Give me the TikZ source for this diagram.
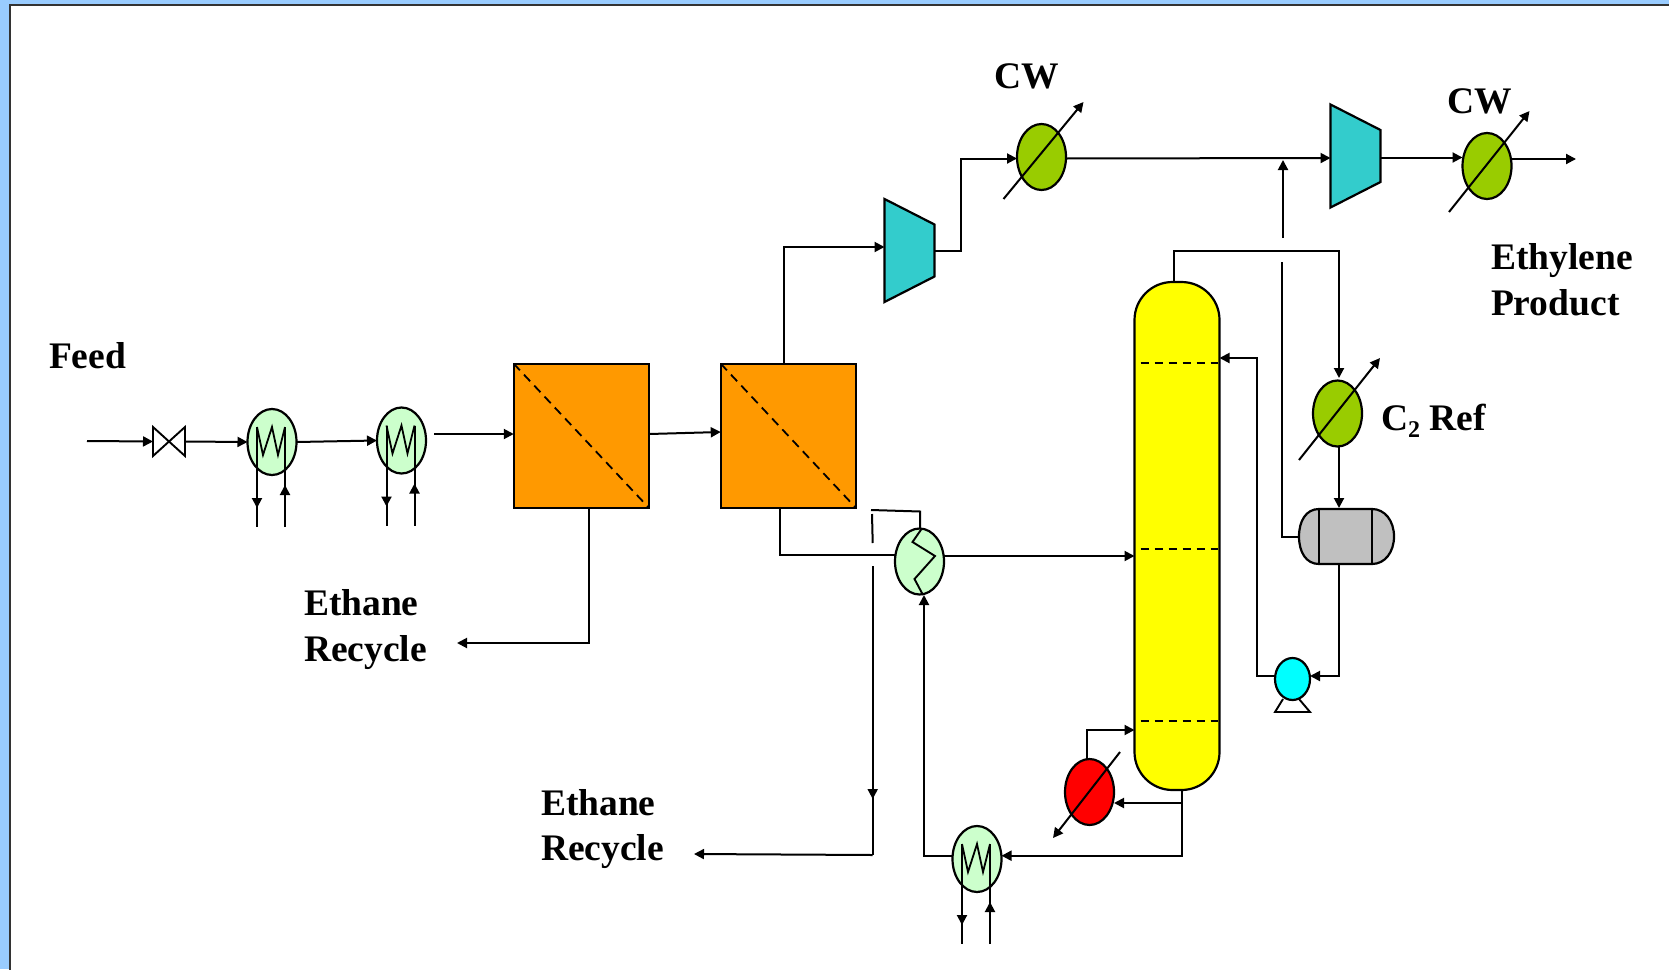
\documentclass[tikz,border=0pt]{standalone}
\usepackage{fontspec}
\setmainfont{Liberation Serif}
\usetikzlibrary{arrows.meta,calc,shapes.geometric}
\definecolor{pageblue}{HTML}{99CCFF}
\definecolor{hxlight}{HTML}{CCFFCC}
\definecolor{hxgreen}{HTML}{99CC00}
\definecolor{compteal}{HTML}{33CCCC}
\definecolor{memorange}{HTML}{FF9900}
\definecolor{drumgrey}{HTML}{C0C0C0}
\definecolor{puryellow}{HTML}{FFFF00}
\definecolor{purcyan}{HTML}{00FFFF}
\definecolor{purred}{HTML}{FF0000}
\tikzset{
  pipe/.style={line width=2pt,line join=miter},
  flow/.style={pipe,-{Triangle[length=10pt,width=10pt]}},
  vessel/.style={draw,line width=2.2pt,inner sep=0pt,outer sep=0pt},
  hxshell/.style={vessel,ellipse,minimum width=49pt,minimum height=66pt},
  heater/.style={hxshell,fill=hxlight},
  cooler/.style={hxshell,fill=hxgreen},
  reboiler/.style={hxshell,fill=purred},
  membrane/.style={vessel,rectangle,fill=memorange,minimum width=135.5pt,minimum height=144.5pt},
  column/.style={vessel,rectangle,fill=puryellow,rounded corners=38pt,minimum width=85pt,minimum height=508pt},
  pumpbody/.style={vessel,ellipse,fill=purcyan,minimum width=35pt,minimum height=42pt},
  anchorbox/.style={inner sep=0pt,outer sep=0pt},
  tag/.style={inner sep=0pt,outer sep=0pt,anchor=base west,align=left,font=\bfseries\fontsize{37.5}{45.5}\selectfont},
  tray/.style={line width=1.8pt,dash pattern=on 8pt off 6pt},
  diag/.style={line width=1.8pt,dash pattern=on 9pt off 6pt},
}
% heat exchanger internals: coil with two utility lines
\newcommand{\wcoil}[1]{%
  \draw[flow] ($(#1)+(-15,-15)$) -- ($(#1)+(-15,66)$);
  \draw[pipe] ($(#1)+(-15,60)$) -- ($(#1)+(-15,85)$);
  \draw[flow] ($(#1)+(13,85)$) -- ($(#1)+(13,43)$);
  \draw[pipe] ($(#1)+(13,48)$) -- ($(#1)+(13,-15)$);
  \draw[line width=1.8pt] ($(#1)+(-15,-15)$) -- ($(#1)+(-9,13)$) -- ($(#1)+(0,-15)$) -- ($(#1)+(6,13)$) -- ($(#1)+(13,-15)$);
}
\newcommand{\compressor}[3]{%
  \node[anchorbox,minimum width=50pt,minimum height=103pt] (#1) at (#2,#3) {};
  \draw[line width=2.2pt,fill=compteal] (#1.north west) -- ($(#1.east)+(0,-26)$) -- ($(#1.east)+(0,26)$) -- (#1.south west) -- cycle;
}
\begin{document}
\begin{tikzpicture}[x=1pt,y=-1pt]
\useasboundingbox (0,0) rectangle (1669,969);
\fill[pageblue] (0,0) rectangle (1669,969);
\fill[white,draw=black!80,line width=2pt] (9.5,5) rectangle (1680,985);

% ---- equipment ----
\node[anchorbox,minimum width=32pt,minimum height=29pt] (valve) at (169,441.5) {};
\draw[line width=1.9pt] (valve.north west) -- (valve.south east) -- (valve.north east) -- (valve.south west) -- cycle;
\node[heater] (hx1) at (272,442) {};
\node[heater] (hx2) at (401.5,440.5) {};
\node[heater] (hx3) at (919.5,561.5) {};
\node[heater] (hx4) at (977,859) {};
\node[cooler] (cw1) at (1041.5,157) {};
\node[cooler] (cw2) at (1487,166) {};
\node[cooler] (c2ref) at (1337.5,413.5) {};
\node[reboiler] (reb) at (1089.5,792) {};
\node[membrane] (box1) at (581.5,436) {};
\node[membrane] (box2) at (788.5,436) {};
\compressor{comp1}{909.5}{250.5}
\compressor{comp2}{1355.5}{156}
\node[column] (col) at (1177,536) {};
\node[anchorbox,minimum width=95pt,minimum height=55pt] (drum) at (1346.5,536.5) {};
\draw[line width=2.2pt,fill=drumgrey] (1319,509) -- (1372,509) .. controls (1385,509) and (1394,521) .. (1394,536.5) .. controls (1394,552) and (1385,564) .. (1372,564) -- (1319,564) .. controls (1306,564) and (1299,552) .. (1299,536.5) .. controls (1299,521) and (1306,509) .. (1319,509) -- cycle;
\draw[line width=2.2pt] (1319,509) -- (1319,564);
\draw[line width=2.2pt] (1372,509) -- (1372,564);
\draw[line width=1.9pt] (1283,699) -- (1275,712) -- (1310,712) -- (1299,699);
\node[pumpbody] (pump) at (1292.5,679) {};

% internals
\draw[diag] (box1.north west) -- (box1.south east);
\draw[diag] (box2.north west) -- (box2.south east);
\draw[tray] ($(col.west)+(6,-173)$) -- ($(col.east)+(-2,-173)$);
\draw[tray] ($(col.west)+(6,13)$) -- ($(col.east)+(-2,13)$);
\draw[tray] ($(col.west)+(6,185)$) -- ($(col.east)+(-2,185)$);
\wcoil{hx1}
\wcoil{hx2}
\wcoil{hx4}
\coordinate (z1) at ($(hx3)+(2,-32.5)$);
\coordinate (z5) at ($(hx3)+(3.5,33.5)$);
\draw[line width=1.9pt] (z1) -- ($(hx3)+(-7,-19.5)$) -- ($(hx3)+(15.5,-5.5)$) -- ($(hx3)+(-5,17.5)$) -- (z5);
\draw[flow] ($(cw1)+(-38,42)$) -- ($(cw1)+(42,-55)$);
\draw[flow] ($(cw2)+(-38,46)$) -- ($(cw2)+(42.5,-55)$);
\draw[flow] ($(c2ref)+(-38.5,46.5)$) -- ($(c2ref)+(42.5,-55.5)$);
\draw[flow] ($(reb)+(30.5,-40)$) -- ($(reb)+(-36.5,46)$);

% ---- free ends of connectors ----
\coordinate (feedin) at (87,441);
\coordinate (recycleA) at (457,643);
\coordinate (recycleB) at (694,854);
\coordinate (product) at (1576,159);
\coordinate (hx2out) at (434,434);
\coordinate (loopA) at (871,510);
\coordinate (gapA1) at (872,514);
\coordinate (gapA2) at (872.7,543);
\coordinate (gapB1) at (872.7,566);
\coordinate (gapB2) at (872.7,855);
\coordinate (stub1) at (1282,262);
\coordinate (stub2) at (1283,238);
\coordinate (joint) at (1283,160);

% ---- connectors ----
\draw[flow] (feedin) -- (valve.west);
\draw[flow] (valve.east) -- (hx1.west);
\draw[flow] (hx1.east) -- (hx2.west);
\draw[flow] (hx2out) -- (box1.west |- hx2out);
\draw[flow] (box1.east |- hx2out) -- (box2.west |- 0,432);
\draw[flow] ($(box1.south west)+(75,0)$) |- (recycleA);
\draw[flow] ($(box2.north west)+(63.5,0)$) |- (comp1.west |- 0,247);
\draw[flow] (comp1.east) -- ++(26,0) |- (cw1.west |- 0,158.5);
\draw[flow] (cw1.east |- 0,158.5) -- (comp2.west |- 0,158);
\draw[flow] (comp2.east |- 0,157.5) -- (cw2.west |- 0,157.5);
\draw[flow] (cw2.east |- 0,159) -- (product);
\draw[flow] (stub2) -- (joint);
\draw[pipe] ($(box2.south west)+(59,0)$) |- (hx3.west |- 0,555);
\draw[flow] (hx3.east |- 0,556) -- (col.west |- 0,556);
\draw[pipe] ($(hx3.north)+(0.5,0)$) -- ++(0,-17) -- (loopA);
\draw[pipe] (gapA1) -- (gapA2);
\draw[flow] (gapB1) -- (872.7,799);
\draw[pipe] (872.7,790) -- (gapB2);
\draw[flow] (gapB2) -- (recycleB);
\draw[flow] (hx4.west |- 0,855.7) -| (924,595);
\draw[flow] ($(col.south west)+(47.5,0)$) |- (hx4.east |- 0,855.7);
\draw[flow] ($(col.south west)+(47.5,13)$) -- (reb.east |- 0,803);
\draw[flow] ($(reb.north)+(-2.5,0)$) |- (col.west |- 0,730);
\draw[flow] ($(col.north west)+(39,0)$) -- ++(0,-31) -| (1339,378);
\draw[flow] (1339,447) -- (1339,508);
\draw[pipe] (drum.west) -| (stub1);
\draw[flow] (1339,564) |- (pump.east |- 0,676);
\draw[flow] (pump.west |- 0,676) -- ++(-18,0) |- (col.east |- 0,358);

% ---- labels ----
\node[tag] (lfeed) at (49,368) {Feed};
\node[tag] (lcw1) at (994,88) {CW};
\node[tag] (lcw2) at (1447,113) {CW};
\node[tag] (leth) at (1491,315) {Ethylene\\Product};
\node[tag] (lc2) at (1381,430) {C\raisebox{-7pt}{\fontsize{24}{24}\selectfont 2} Ref};
\node[tag] (lrec1) at (304,661) {Ethane\\Recycle};
\node[tag] (lrec2) at (541,860.5) {Ethane\\Recycle};
\end{tikzpicture}
\end{document}
